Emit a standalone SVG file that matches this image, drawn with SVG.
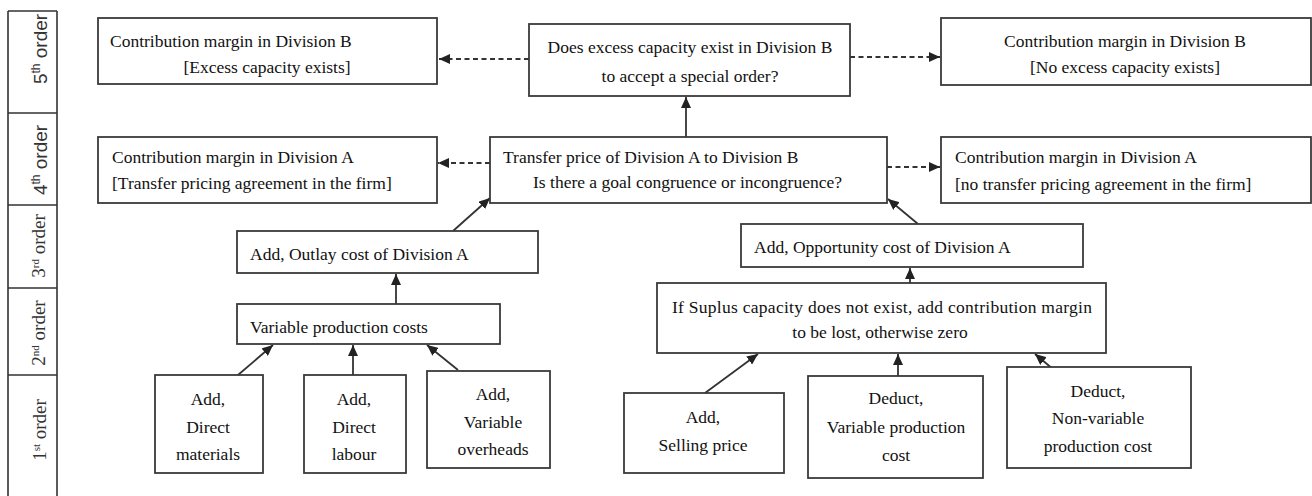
<svg xmlns="http://www.w3.org/2000/svg" width="1312" height="496" viewBox="0 0 1312 496">
<style>
.box{fill:#fff;stroke:#3a3a3a;stroke-width:1.8}
.t{font-family:"Liberation Serif","Times New Roman",serif;font-size:17.5px;fill:#111}
.m{text-anchor:middle}
.ord{stroke:#333;stroke-width:1.6;fill:none}
.os{font-family:"Liberation Sans",Arial,sans-serif;font-size:19px;fill:#333;text-anchor:middle}
.of{font-family:"Liberation Serif","Times New Roman",serif;font-size:19px;fill:#333;text-anchor:middle}
.c{stroke:#333;stroke-width:1.8;fill:none}
.d{stroke-dasharray:5 3.5}
</style>
<defs>
<marker id="ah" markerUnits="userSpaceOnUse" markerWidth="12" markerHeight="10" refX="11" refY="5" orient="auto">
<path d="M0,0 L11,5 L0,10 Z" fill="#222"/>
</marker>
</defs>

<g id="orders">
<path class="ord" d="M8,11 V496 M57,11 V496 M8,11 H57 M8,113 H57 M8,205 H57 M8,288 H57 M8,375 H57"/>
<text class="os" transform="translate(47,49) rotate(-90)">5<tspan font-size="12" dy="-7">th</tspan><tspan dy="7"> order</tspan></text>
<text class="os" transform="translate(47,160) rotate(-90)">4<tspan font-size="12" dy="-7">th</tspan><tspan dy="7"> order</tspan></text>
<text class="of" transform="translate(45,246) rotate(-90)">3<tspan font-size="11" dy="-6">rd</tspan><tspan dy="6"> order</tspan></text>
<text class="of" transform="translate(45,333) rotate(-90)">2<tspan font-size="11" dy="-6">nd</tspan><tspan dy="6"> order</tspan></text>
<text class="of" transform="translate(46,430) rotate(-90)">1<tspan font-size="11" dy="-6">st</tspan><tspan dy="6"> order</tspan></text>
</g>

<g id="connectors">
<line class="c d" x1="529" y1="59" x2="439" y2="59" marker-end="url(#ah)"/>
<line class="c d" x1="850" y1="57" x2="940" y2="57" marker-end="url(#ah)"/>
<line class="c d" x1="490" y1="163" x2="438" y2="163" marker-end="url(#ah)"/>
<line class="c d" x1="887" y1="167" x2="940" y2="167" marker-end="url(#ah)"/>
<line class="c" x1="686" y1="137" x2="686" y2="97" marker-end="url(#ah)"/>
<line class="c" x1="453" y1="231" x2="490" y2="198" marker-end="url(#ah)"/>
<line class="c" x1="918" y1="224" x2="888" y2="199" marker-end="url(#ah)"/>
<line class="c" x1="396" y1="304" x2="396" y2="274" marker-end="url(#ah)"/>
<line class="c" x1="238" y1="375" x2="273" y2="345" marker-end="url(#ah)"/>
<line class="c" x1="353" y1="375" x2="353" y2="345" marker-end="url(#ah)"/>
<line class="c" x1="458" y1="370" x2="427" y2="345" marker-end="url(#ah)"/>
<line class="c" x1="910" y1="283" x2="910" y2="268" marker-end="url(#ah)"/>
<line class="c" x1="705" y1="393" x2="758" y2="354" marker-end="url(#ah)"/>
<line class="c" x1="898" y1="376" x2="898" y2="354" marker-end="url(#ah)"/>
<line class="c" x1="1060" y1="375" x2="1035" y2="354" marker-end="url(#ah)"/>
</g>

<g id="cm-b-excess">
<rect class="box" x="98" y="18" width="339" height="66"/>
<text class="t" x="110" y="47">Contribution margin in Division  B</text>
<text class="t m" x="267" y="73">[Excess capacity exists]</text>
</g>

<g id="excess-capacity-question">
<rect class="box" x="529" y="24" width="321" height="72"/>
<text class="t m" x="690" y="53">Does excess capacity exist in Division B</text>
<text class="t m" x="690" y="82">to accept a special order?</text>
</g>

<g id="cm-b-no-excess">
<rect class="box" x="941" y="18" width="370" height="67"/>
<text class="t m" x="1125" y="47">Contribution margin in Division  B</text>
<text class="t m" x="1125" y="73">[No excess capacity exists]</text>
</g>

<g id="cm-a-agreement">
<rect class="box" x="98" y="137" width="339" height="66"/>
<text class="t" x="112" y="163">Contribution margin in Division  A</text>
<text class="t" x="112" y="189">[Transfer pricing  agreement in the firm]</text>
</g>

<g id="transfer-price">
<rect class="box" x="490" y="137" width="397" height="66"/>
<text class="t" x="503" y="163">Transfer price of Division A to Division B</text>
<text class="t" x="533" y="188">Is there a goal congruence or incongruence?</text>
</g>

<g id="cm-a-no-agreement">
<rect class="box" x="941" y="137" width="370" height="66"/>
<text class="t" x="955" y="163">Contribution margin in Division  A</text>
<text class="t" x="955" y="190">[no transfer pricing  agreement in the firm]</text>
</g>

<g id="outlay-cost">
<rect class="box" x="237" y="231" width="301" height="42"/>
<text class="t" x="250" y="260">Add, Outlay cost of Division  A</text>
</g>

<g id="opportunity-cost">
<rect class="box" x="741" y="224" width="342" height="43"/>
<text class="t" x="754" y="253">Add, Opportunity cost of Division  A</text>
</g>

<g id="variable-production-costs">
<rect class="box" x="237" y="304" width="263" height="40"/>
<text class="t" x="250" y="333">Variable production costs</text>
</g>

<g id="surplus-capacity">
<rect class="box" x="657" y="283" width="449" height="70"/>
<text class="t" x="672" y="313" textLength="420" lengthAdjust="spacing">If Suplus  capacity does not exist, add contribution margin</text>
<text class="t m" x="880" y="338">to be lost, otherwise zero</text>
</g>

<g id="direct-materials">
<rect class="box" x="155" y="375" width="108" height="98"/>
<text class="t m" x="208" y="405">Add,</text>
<text class="t m" x="208" y="433">Direct</text>
<text class="t m" x="208" y="460">materials</text>
</g>

<g id="direct-labour">
<rect class="box" x="304" y="375" width="102" height="98"/>
<text class="t m" x="354" y="405">Add,</text>
<text class="t m" x="354" y="433">Direct</text>
<text class="t m" x="354" y="460">labour</text>
</g>

<g id="variable-overheads">
<rect class="box" x="427" y="371" width="123" height="97"/>
<text class="t m" x="493" y="400">Add,</text>
<text class="t m" x="493" y="428">Variable</text>
<text class="t m" x="493" y="455">overheads</text>
</g>

<g id="selling-price">
<rect class="box" x="624" y="393" width="160" height="80"/>
<text class="t m" x="703" y="423">Add,</text>
<text class="t m" x="703" y="451">Selling price</text>
</g>

<g id="variable-production-cost">
<rect class="box" x="808" y="376" width="175" height="102"/>
<text class="t m" x="896" y="404">Deduct,</text>
<text class="t m" x="896" y="433">Variable production</text>
<text class="t m" x="896" y="461">cost</text>
</g>

<g id="non-variable-production-cost">
<rect class="box" x="1007" y="367" width="184" height="101"/>
<text class="t m" x="1098" y="397">Deduct,</text>
<text class="t m" x="1098" y="424">Non-variable</text>
<text class="t m" x="1098" y="452">production cost</text>
</g>
</svg>
